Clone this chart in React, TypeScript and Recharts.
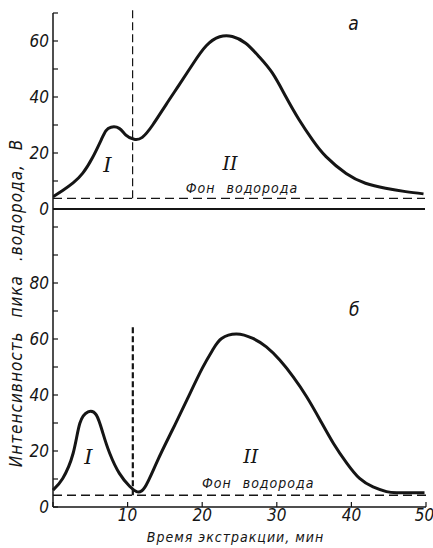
import { LineChart, Line, XAxis, YAxis, ReferenceLine, ReferenceDot } from 'recharts';

// а — top panel, б — bottom panel; time in minutes, signal in volts
const topTime = [0, 1.3, 2.7, 4, 5.3, 6.5, 7.1, 7.8, 8.9, 9.8, 10.9, 12, 13.4, 15.2, 17, 18.8, 20.6, 22.4, 24.1, 25.9, 27.7, 29.5, 31.3, 33.1, 34.9, 36.7, 39.4, 42, 44.7, 47.4, 49.8];
const topSignal = [4.4, 6.6, 9.3, 12.8, 18.3, 24.8, 27.9, 29.2, 28.8, 26.4, 24.9, 25.6, 30, 37.3, 44.5, 51.8, 58.3, 61.5, 61.6, 59.2, 54.4, 48.5, 40.1, 31.8, 24.6, 18.7, 12.7, 9.2, 7.4, 6.2, 5.4];

const bottomTime = [0, 1.3, 2.7, 3.6, 4.7, 5.8, 6.7, 7.6, 8.9, 10.3, 11.2, 12.3, 14, 16, 18, 20, 21.5, 22.6, 24.6, 26.8, 28.6, 30.4, 32.2, 34, 35.8, 37.6, 39.4, 41.1, 42.9, 44.7, 46.1, 49.8];
const bottomSignal = [6, 10.2, 19.2, 29.9, 34, 32.9, 26.3, 19.2, 12, 7.3, 5.5, 7, 16.5, 27.5, 38.5, 49.5, 56.5, 60.2, 61.8, 60.2, 57.2, 52.5, 46.5, 39.4, 31.1, 22.7, 15.6, 10.2, 7.2, 5.5, 5.1, 5.1];

const topBackground = 3.8;
const bottomBackground = 4.2;
const peakBoundary = 10.7;

const topTicks = [0, 10, 20, 30, 40, 50, 60, 70];
const bottomTicks = [0, 10, 20, 30, 40, 50, 60, 70, 80, 90, 100];
const timeTicks = [0, 10, 20, 30, 40, 50];

const ink = '#151515';
const axisFont = "'Liberation Sans Narrow', 'DejaVu Sans Condensed', sans-serif";
const romanFont = "'DejaVu Serif', 'Liberation Serif', serif";

const topData = topTime.map((t, i) => ({ t, v: topSignal[i] }));
const bottomData = bottomTime.map((t, i) => ({ t, v: bottomSignal[i] }));

const tickStyle = { fill: ink, fontSize: 17, fontStyle: 'italic', fontFamily: axisFont };
const everyTwenty = (v: number) => (v % 20 === 0 && v < 100 ? String(v) : '');

const note = (value: string, fontSize: number, family = axisFont, extra = {}) => ({
  value,
  position: 'center' as const,
  fontSize,
  fontStyle: 'italic',
  fontFamily: family,
  fill: ink,
  ...extra,
});

export default function App() {
  return (
    <div style={{ position: 'absolute', left: 0, top: 0, width: 433, height: 548, background: '#fff' }}>
      {/* a */}
      <div style={{ position: 'absolute', left: 0, top: 0 }}>
        <LineChart width={433} height={548} data={topData} margin={{ top: 13, right: 8, bottom: 321, left: 0 }}>
          <XAxis dataKey="t" type="number" domain={[0, 50]} hide allowDataOverflow />
          <YAxis
            type="number"
            domain={[-6.43, 70]}
            ticks={topTicks}
            allowDataOverflow
            width={53}
            tickSize={-5}
            tickMargin={9}
            tickFormatter={everyTwenty}
            tick={tickStyle}
            axisLine={{ stroke: ink, strokeWidth: 1.5 }}
            tickLine={{ stroke: ink, strokeWidth: 1.2 }}
          />
          <ReferenceLine y={0} stroke={ink} strokeWidth={2} />
          <ReferenceLine
            segment={[{ x: 0, y: topBackground }, { x: 50, y: topBackground }]}
            stroke={ink}
            strokeWidth={1.3}
            strokeDasharray="9 5"
          />
          <ReferenceLine
            segment={[{ x: peakBoundary, y: topBackground }, { x: peakBoundary, y: 71 }]}
            stroke={ink}
            strokeWidth={1.2}
            strokeDasharray="8 4"
            ifOverflow="visible"
          />
          <Line type="natural" dataKey="v" stroke={ink} strokeWidth={3} dot={false} isAnimationActive={false} />
          <ReferenceDot x={7.3} y={15.7} r={0} label={note('I', 21, romanFont)} />
          <ReferenceDot x={23.8} y={16.3} r={0} label={note('II', 19, romanFont)} />
          <ReferenceDot x={25.4} y={7.4} r={0} label={note('Фон водорода', 14, axisFont, { letterSpacing: 1, wordSpacing: 6 })} />
          <ReferenceDot x={40.4} y={66.3} r={0} label={note('а', 19)} />
        </LineChart>
      </div>

      {/* б */}
      <div style={{ position: 'absolute', left: 0, top: 0 }}>
        <LineChart width={433} height={548} data={bottomData} margin={{ top: 227, right: 7, bottom: 0, left: 0 }}>
          <XAxis
            dataKey="t"
            type="number"
            domain={[0, 50]}
            ticks={timeTicks}
            height={41}
            tickSize={-5}
            tickMargin={7}
            tickFormatter={(v: number) => (v === 0 ? '' : String(v))}
            tick={tickStyle}
            axisLine={{ stroke: ink, strokeWidth: 1.5 }}
            tickLine={{ stroke: ink, strokeWidth: 1.2 }}
            label={{
              value: 'Время  экстракции,  мин',
              position: 'insideBottom',
              offset: 6,
              dx: -4,
              fontSize: 14,
              fontStyle: 'italic',
              fontFamily: axisFont,
              fill: ink,
              letterSpacing: 1,
            }}
          />
          <YAxis
            type="number"
            domain={[0, 100]}
            ticks={bottomTicks}
            width={53}
            tickSize={-5}
            tickMargin={9}
            tickFormatter={everyTwenty}
            tick={tickStyle}
            axisLine={{ stroke: ink, strokeWidth: 1.5 }}
            tickLine={{ stroke: ink, strokeWidth: 1.2 }}
          />
          <ReferenceLine
            segment={[{ x: 0, y: bottomBackground }, { x: 50, y: bottomBackground }]}
            stroke={ink}
            strokeWidth={1.3}
            strokeDasharray="9 5"
          />
          <ReferenceLine
            segment={[{ x: peakBoundary, y: bottomBackground }, { x: peakBoundary, y: 64.4 }]}
            stroke={ink}
            strokeWidth={2.2}
            strokeDasharray="6 3"
          />
          <Line type="natural" dataKey="v" stroke={ink} strokeWidth={3} dot={false} isAnimationActive={false} />
          <ReferenceDot x={4.75} y={18} r={0} label={note('I', 21, romanFont)} />
          <ReferenceDot x={26.5} y={18} r={0} label={note('II', 19, romanFont)} />
          <ReferenceDot x={27.5} y={8.5} r={0} label={note('Фон водорода', 14, axisFont, { letterSpacing: 1, wordSpacing: 6 })} />
          <ReferenceDot x={40.4} y={70.6} r={0} label={note('б', 19)} />
        </LineChart>
      </div>

      <div
        style={{
          position: 'absolute',
          left: 16 - 170,
          top: 303 - 11,
          width: 340,
          height: 22,
          lineHeight: '22px',
          textAlign: 'center',
          transform: 'rotate(-90deg)',
          fontFamily: axisFont,
          fontStyle: 'italic',
          fontSize: 17,
          letterSpacing: 1,
          wordSpacing: 8,
          color: ink,
          whiteSpace: 'nowrap',
        }}
      >
        Интенсивность пика .водорода, В
      </div>
    </div>
  );
}
